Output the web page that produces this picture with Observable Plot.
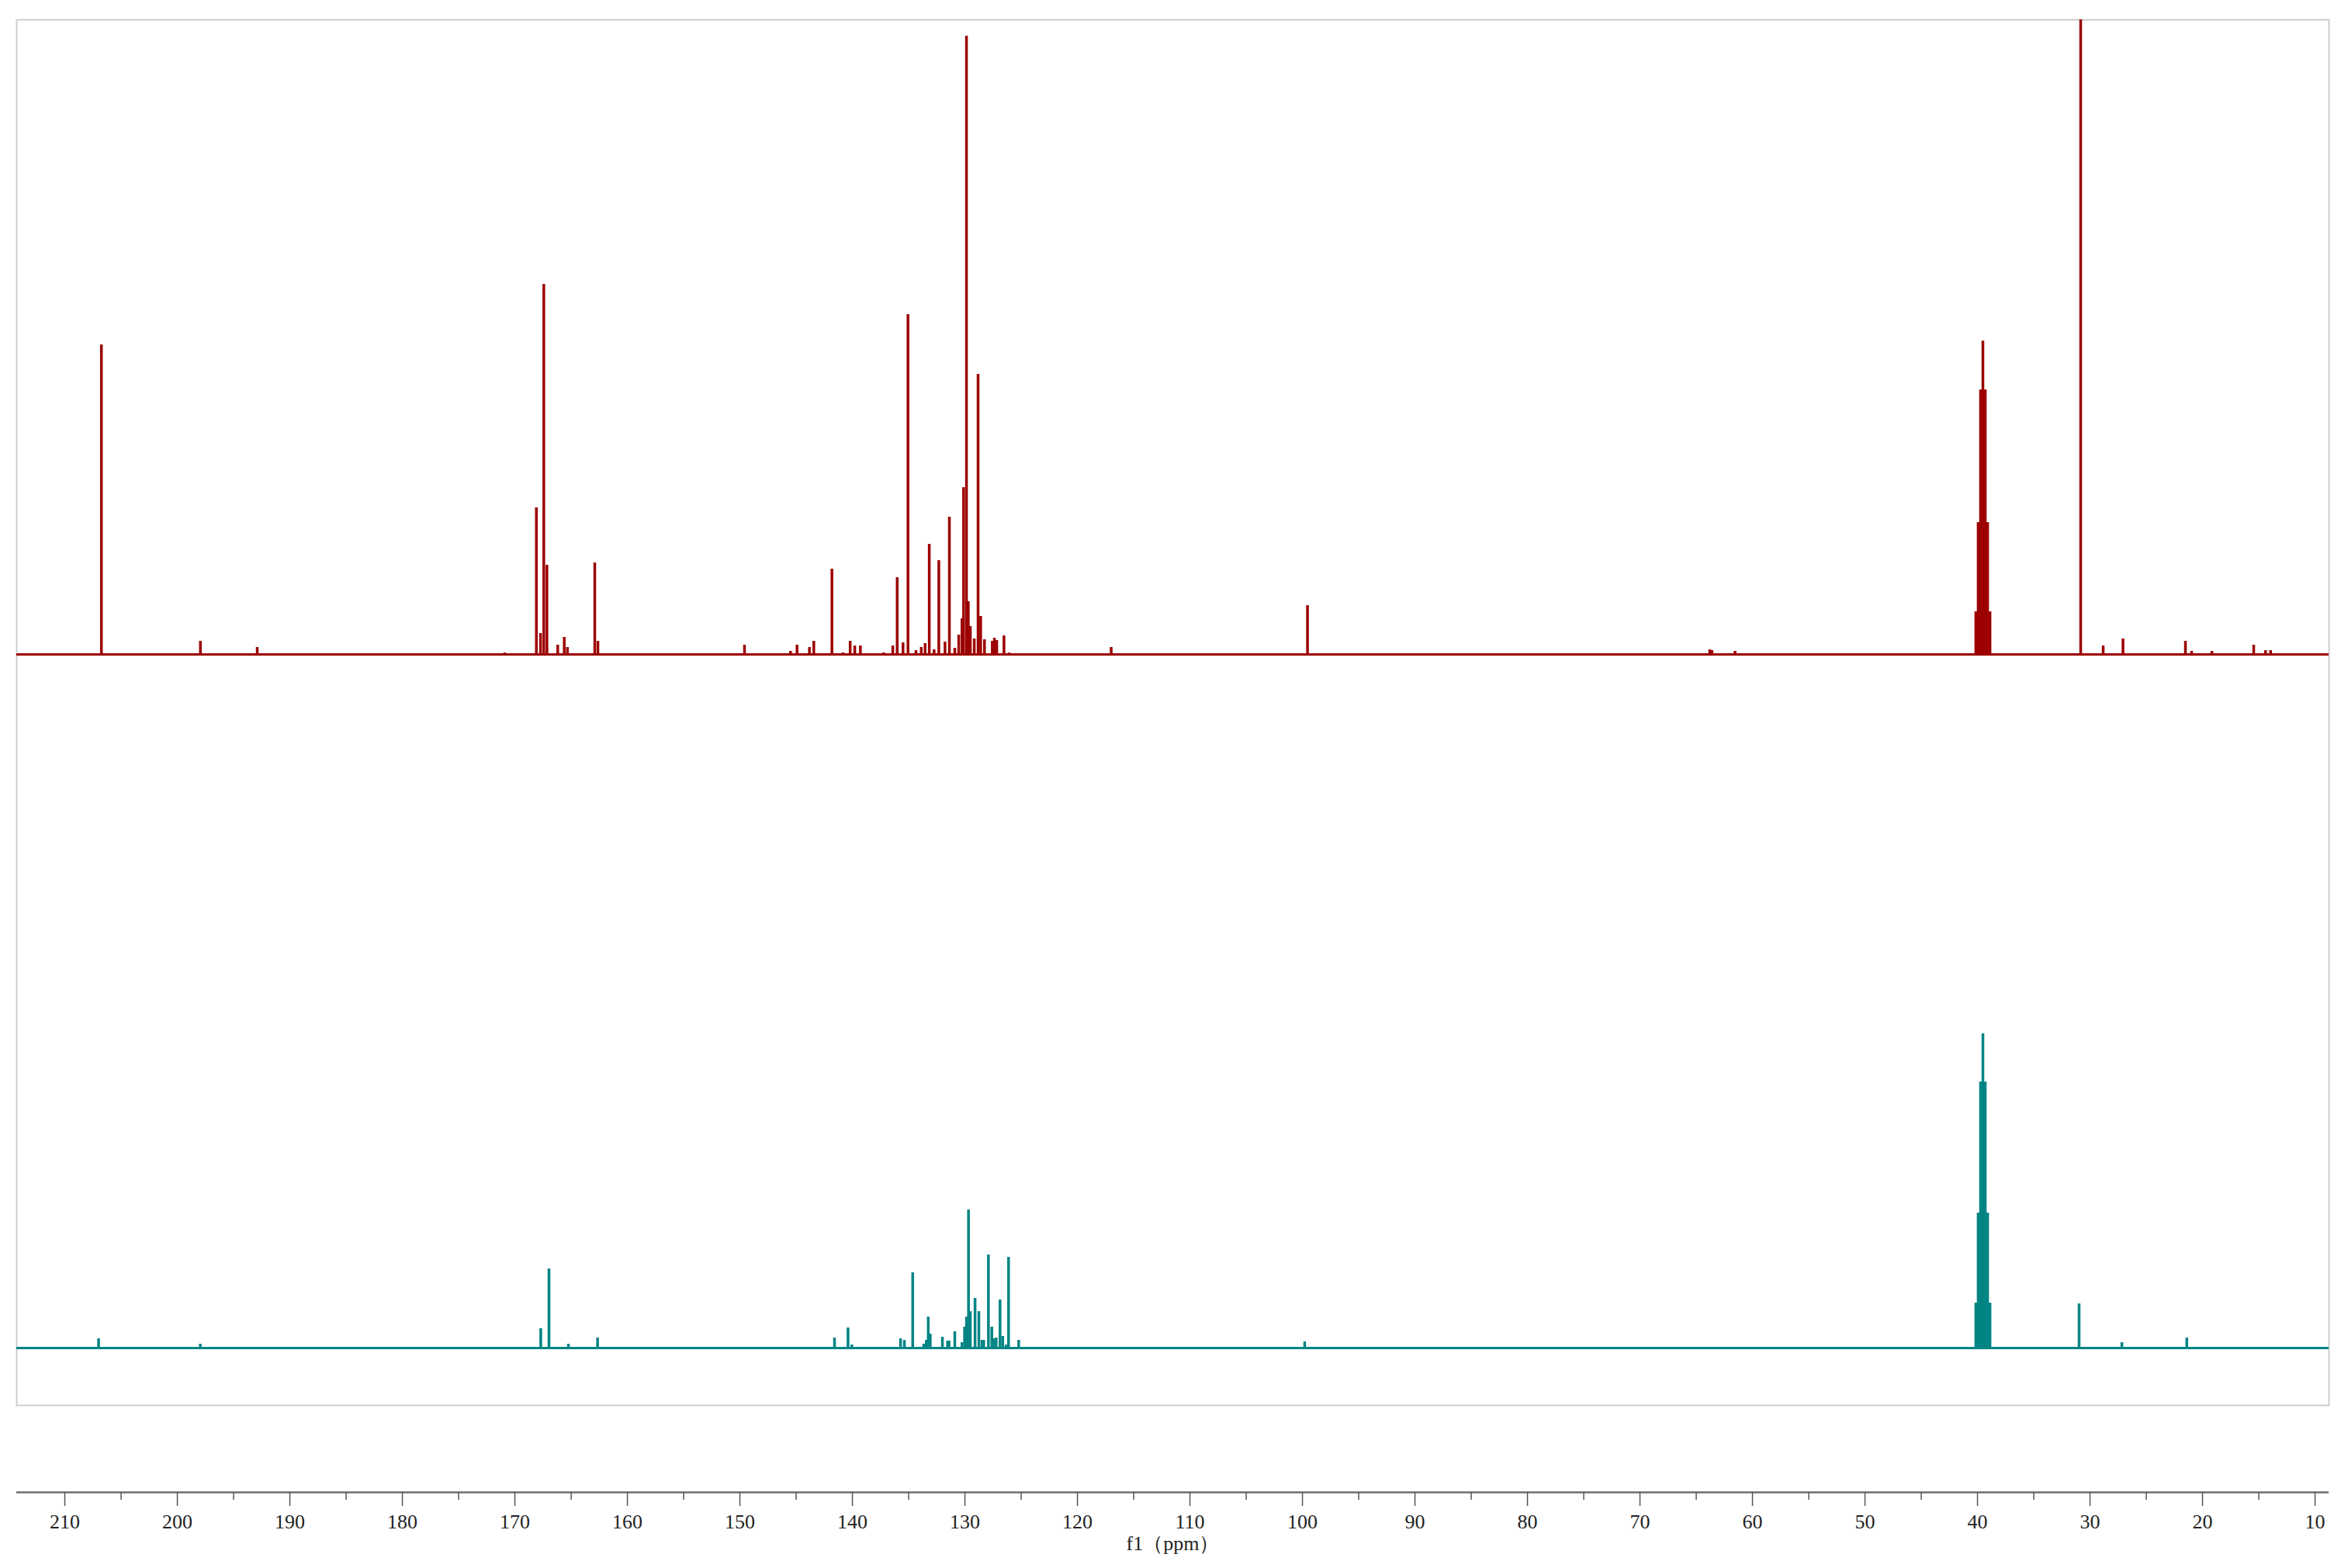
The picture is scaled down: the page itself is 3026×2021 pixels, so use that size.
<!DOCTYPE html>
<html>
<head>
<meta charset="utf-8">
<script src="https://cdn.jsdelivr.net/npm/d3@7"></script>
<script src="https://cdn.jsdelivr.net/npm/@observablehq/plot@0.6"></script>
<style>
  html, body { margin: 0; padding: 0; background: #fff; }
  #chart svg { display: block; }
</style>
</head>
<body>
<div id="chart"></div>
<script>
// ---- Data (chemical shift in ppm, peak height in arbitrary units) ----
const redPpm = [
  206.75, 197.95, 192.9, 170.9,
  168.09, 167.72, 167.43, 167.15, 166.19, 165.61, 165.33, 162.9, 162.62,
  149.59, 145.5, 144.92, 143.82, 143.43, 141.82, 140.83, 140.2, 139.79, 139.29,
  137.22, 136.41, 136.02, 135.5, 135.06, 134.35, 133.88, 133.54, 133.17, 132.74, 132.32,
  131.77, 131.38, 130.9, 130.55, 130.26, 130.12, 129.86, 129.7, 129.52, 129.17,
  128.83, 128.6, 128.26, 127.57, 127.38, 127.17, 126.53, 126.07,
  117.0, 99.55, 63.8, 63.6, 61.55,
  40.15, 39.94, 39.73, 39.52, 39.31, 39.10, 38.89,
  30.83, 28.83, 27.07, 21.52, 20.97, 19.17, 15.45, 14.4, 13.95
];
const redHeight = [
  399, 17, 9, 2,
  189, 27, 477, 115, 12, 22, 9, 118, 17,
  12, 4, 12, 9, 17, 110, 2, 17, 11, 11,
  2, 11, 99, 15, 438, 5, 9, 14, 142, 6, 121,
  16, 177, 8, 25, 46, 215, 797, 68, 36, 20,
  361, 49, 19, 17, 21, 18, 24, 2,
  9, 63, 6, 5, 4,
  55, 170, 341, 404, 341, 170, 55,
  1000, 11, 20, 17, 4, 4, 12, 5, 5
];

const tealPpm = [
  207.0, 197.96, 167.7, 166.97, 165.24, 162.65,
  141.59, 140.39, 140.05, 135.72, 135.38, 134.64, 133.66, 133.43, 133.26, 133.08,
  132.0, 131.54, 131.41, 130.9, 130.26, 130.03, 129.86, 129.68, 129.52, 129.1,
  128.76, 128.48, 128.33, 127.91, 127.61, 127.45, 127.22, 126.88, 126.64, 126.34,
  126.12, 125.22, 99.8,
  40.15, 39.94, 39.73, 39.52, 39.31, 39.10, 38.89,
  30.97, 27.17, 21.4
];
const tealHeight = [
  12, 5, 25, 102, 5, 13,
  13, 26, 4, 12, 10, 97, 5, 10, 40, 18,
  14, 9, 9, 21, 7, 27, 40, 178, 47, 64,
  47, 10, 10, 120, 27, 12, 13, 62, 15, 4,
  117, 10, 8,
  58, 174, 343, 405, 343, 174, 58,
  57, 7, 13
];

const majorTicks = [210, 200, 190, 180, 170, 160, 150, 140, 130, 120, 110, 100, 90, 80, 70, 60, 50, 40, 30, 20, 10];
const minorTicks = [205, 195, 185, 175, 165, 155, 145, 135, 125, 115, 105, 95, 85, 75, 65, 55, 45, 35, 25, 15];
const xLabel = "f1（ppm）";

// ---- Tables for the marks ----
const redPeaks = redPpm.map((p, i) => ({ppm: p, h: redHeight[i]}));
const tealPeaks = tealPpm.map((p, i) => ({ppm: p, h: tealHeight[i]}));

const RED = "#9c0000";
const TEAL = "#008484";
const RED_BASE = 968;   // vertical offset of the upper trace
const TEAL_BASE = 74;   // vertical offset of the lower trace
const X_DOMAIN = [214.28, 8.76];
const W = 3026;

const spectra = Plot.plot({
  width: W,
  height: 1830,
  marginLeft: 21,
  marginRight: 25,
  marginTop: 25,
  marginBottom: 19,
  x: {domain: X_DOMAIN, axis: null},
  y: {domain: [0, 1786], axis: null},
  marks: [
    Plot.frame({stroke: "#cdcdcd", strokeWidth: 2}),
    Plot.ruleY([RED_BASE], {stroke: RED, strokeWidth: 3}),
    Plot.ruleX(redPeaks, {x: "ppm", y1: () => RED_BASE, y2: d => RED_BASE + d.h, stroke: RED, strokeWidth: 3.5, clip: true}),
    Plot.ruleY([TEAL_BASE], {stroke: TEAL, strokeWidth: 3}),
    Plot.ruleX(tealPeaks, {x: "ppm", y1: () => TEAL_BASE, y2: d => TEAL_BASE + d.h, stroke: TEAL, strokeWidth: 3.5, clip: true})
  ]
});

const axis = Plot.plot({
  width: W,
  height: 191,
  marginLeft: 21,
  marginRight: 25,
  marginTop: 80,
  marginBottom: 98,
  style: {fontFamily: "Liberation Serif", fontSize: "26px", color: "#222"},
  x: {domain: X_DOMAIN, labelArrow: "none"},
  y: {domain: [0, 1], axis: null},
  marks: [
    Plot.ruleY([0], {stroke: "#6e6e6e", strokeWidth: 2.5}),
    Plot.axisX({ticks: minorTicks, tickSize: 10, tickFormat: () => "", stroke: "#555", strokeWidth: 1.5, label: null}),
    Plot.axisX({ticks: majorTicks, tickSize: 18, tickPadding: 10, stroke: "#555", strokeWidth: 1.5,
      fill: "#222", fontSize: 26, tickFormat: d => String(d),
      label: xLabel, labelAnchor: "center", labelOffset: 74, labelArrow: "none"})
  ]
});

const root = document.getElementById("chart");
root.appendChild(spectra);
root.appendChild(axis);
</script>
</body>
</html>
